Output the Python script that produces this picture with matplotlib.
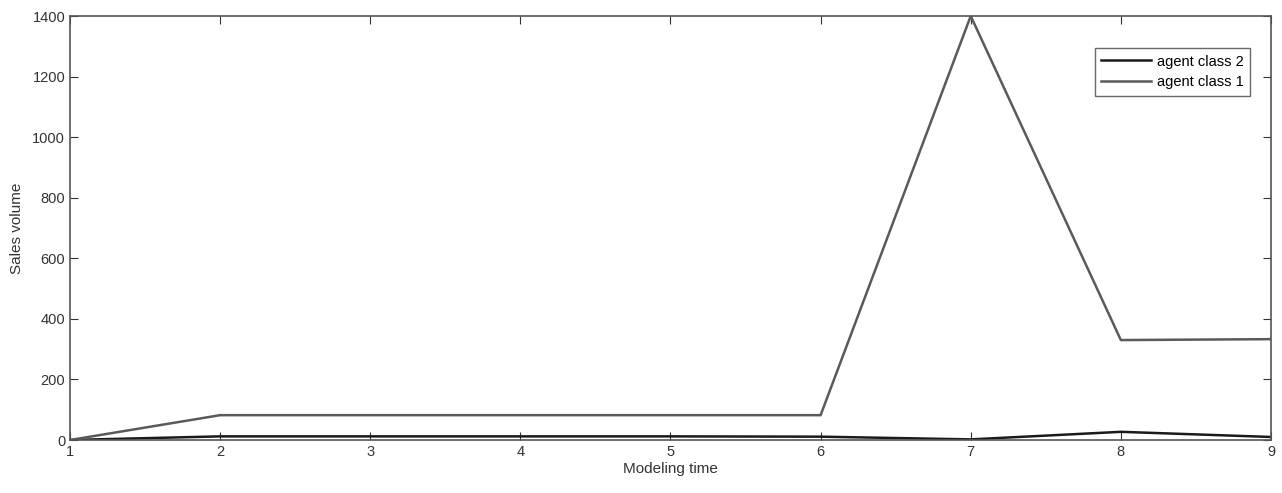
import matplotlib
matplotlib.use("Agg")
import matplotlib.pyplot as plt

plt.rcParams['font.family'] = ['Liberation Sans', 'DejaVu Sans']

time = [1, 2, 3, 4, 5, 6, 7, 8, 9]
class1 = [0, 82, 82, 82, 82, 82, 1400, 330, 333]
class2 = [0, 12, 12, 12, 12, 11, 2, 27, 10]

fig = plt.figure(figsize=(12.82, 4.93), dpi=100)
ax = fig.add_axes([0.0546, 0.1075, 0.9368, 0.86])

ax.plot(time, class2, color="#1a1a1a", linewidth=1.8, label="agent class 2")
ax.plot(time, class1, color="#5a5a5a", linewidth=1.8, label="agent class 1")

ax.set_xlim(1, 9)
ax.set_ylim(0, 1400)
ax.set_xticks(range(1, 10))
ax.set_yticks(range(0, 1401, 200))
ax.tick_params(direction="in", labelsize=10.5, colors="#333333", length=6,
               top=True, right=True)
for s in ax.spines.values():
    s.set_color("#555555")
    s.set_linewidth(1.2)

ax.set_xlabel("Modeling time", fontsize=11, color="#333333", labelpad=2)
ax.set_ylabel("Sales volume", fontsize=11, color="#333333", labelpad=6)

leg = ax.legend(loc="upper right", bbox_to_anchor=(0.9825, 0.9245), borderaxespad=0,
                fontsize=10.5, frameon=True, fancybox=False, edgecolor="#444444",
                handlelength=3.4, borderpad=0.45, labelspacing=0.45, handletextpad=0.4)
leg.get_frame().set_linewidth(1.0)

plt.savefig("out.png", dpi=100)
